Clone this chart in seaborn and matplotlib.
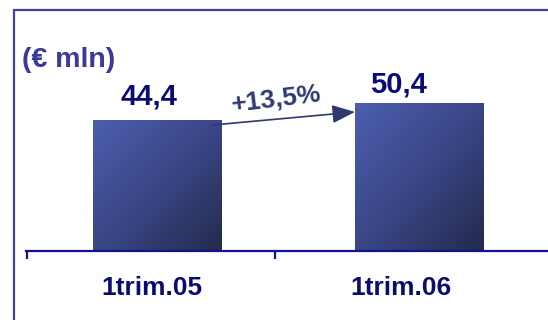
import numpy as np
import pandas as pd
import matplotlib
matplotlib.use("Agg")
import matplotlib.pyplot as plt
from matplotlib.colors import LinearSegmentedColormap
from matplotlib.patches import Rectangle
import seaborn as sns

# data
periods = ["1trim.05", "1trim.06"]
revenue = [44.4, 50.4]
value_labels = ["44,4", "50,4"]
growth_label = "+13,5%"
unit_label = "(\u20ac mln)"

df = pd.DataFrame({"period": periods, "revenue": revenue})

sns.set_style("white")
plt.rcParams["font.family"] = ["Liberation Sans", "DejaVu Sans"]
plt.rcParams["font.weight"] = "bold"

W, H = 548, 320
fig = plt.figure(figsize=(W / 100, H / 100), dpi=100)
fig.patch.set_facecolor("white")

# axes: baseline at y=251 px, left end of axis at x=26 px
px_per_unit = 262.0
ax = fig.add_axes([26 / W, (H - 251) / H, 1 - 26 / W, (251 - 9) / H])
ax.set_facecolor("none")

sns.barplot(data=df, x="period", y="revenue", width=0.492, color="#3d4a8c",
            edgecolor="none", ax=ax)

xlim = (-(157.5 - 26) / px_per_unit, 1 + (W - 419.5) / px_per_unit)
ylim = (0, (251 - 9) / 2.945)

# diagonal gradient fill on each bar
cmap = LinearSegmentedColormap.from_list("bar", ["#4c5eae", "#3a4787", "#242a4d"])
yy, xx = np.mgrid[0:1:100j, 0:1:100j]
grad = (xx + yy) / 2
for p in ax.patches:
    x0, y0 = p.get_x(), p.get_y()
    w, h = p.get_width(), p.get_height()
    im = ax.imshow(grad, cmap=cmap, extent=(x0, x0 + w, y0, y0 + h),
                   origin="upper", aspect="auto", zorder=p.get_zorder() + 0.1)
    im.set_clip_path(p)
ax.set_xlim(*xlim)
ax.set_ylim(*ylim)

# spines / ticks
for s in ["top", "right", "left"]:
    ax.spines[s].set_visible(False)
ax.spines["bottom"].set_color("#12128a")
ax.spines["bottom"].set_linewidth(1.6)
ax.set_yticks([])
ax.set_xlabel("")
ax.set_ylabel("")

label_pos = [-0.021, 0.929]
ax.set_xticks(label_pos)
ax.set_xticklabels(periods, fontsize=19, fontweight="bold", color="#0c0c70")
ax.tick_params(axis="x", which="major", bottom=True, length=0, pad=18)
ax.set_xticks([xlim[0] + 0.004, 0.448], minor=True)
ax.tick_params(axis="x", which="minor", bottom=True, length=5.5, width=1.6,
               color="#12128a", direction="out")

# value labels above bars
offsets = [11, 7]
for xp, v, lab, off in zip(label_pos, revenue, value_labels, offsets):
    ax.annotate(lab, (xp, v), xytext=(-2, off), textcoords="offset points",
                ha="center", va="baseline", fontsize=21, fontweight="bold",
                color="#0a0a78")

# growth arrow between the bars
ax.annotate("", xy=(0.754, revenue[1] - 3.2), xytext=(0.212, revenue[0] - 1.6),
            arrowprops=dict(arrowstyle="-|>,head_length=0.7,head_width=0.28",
                            mutation_scale=20, color="#2f3a70", lw=1.2,
                            shrinkA=0, shrinkB=0))
ax.text(0.455, 51.3, growth_label, rotation=7, ha="center", va="center",
        fontsize=19, fontweight="bold", color="#2f3a70")

# unit label and outer frame
fig.text(22 / W, 1 - 67 / H, unit_label, ha="left", va="baseline",
         fontsize=20.5, fontweight="bold", color="#3a3a99")
fig.patches.append(Rectangle((13.5 / W, -0.1), 1.2, 1.1 - 9.5 / H,
                             transform=fig.transFigure, fill=False,
                             edgecolor="#4040a8", lw=1.6))

fig.savefig("out.png", dpi=100)
